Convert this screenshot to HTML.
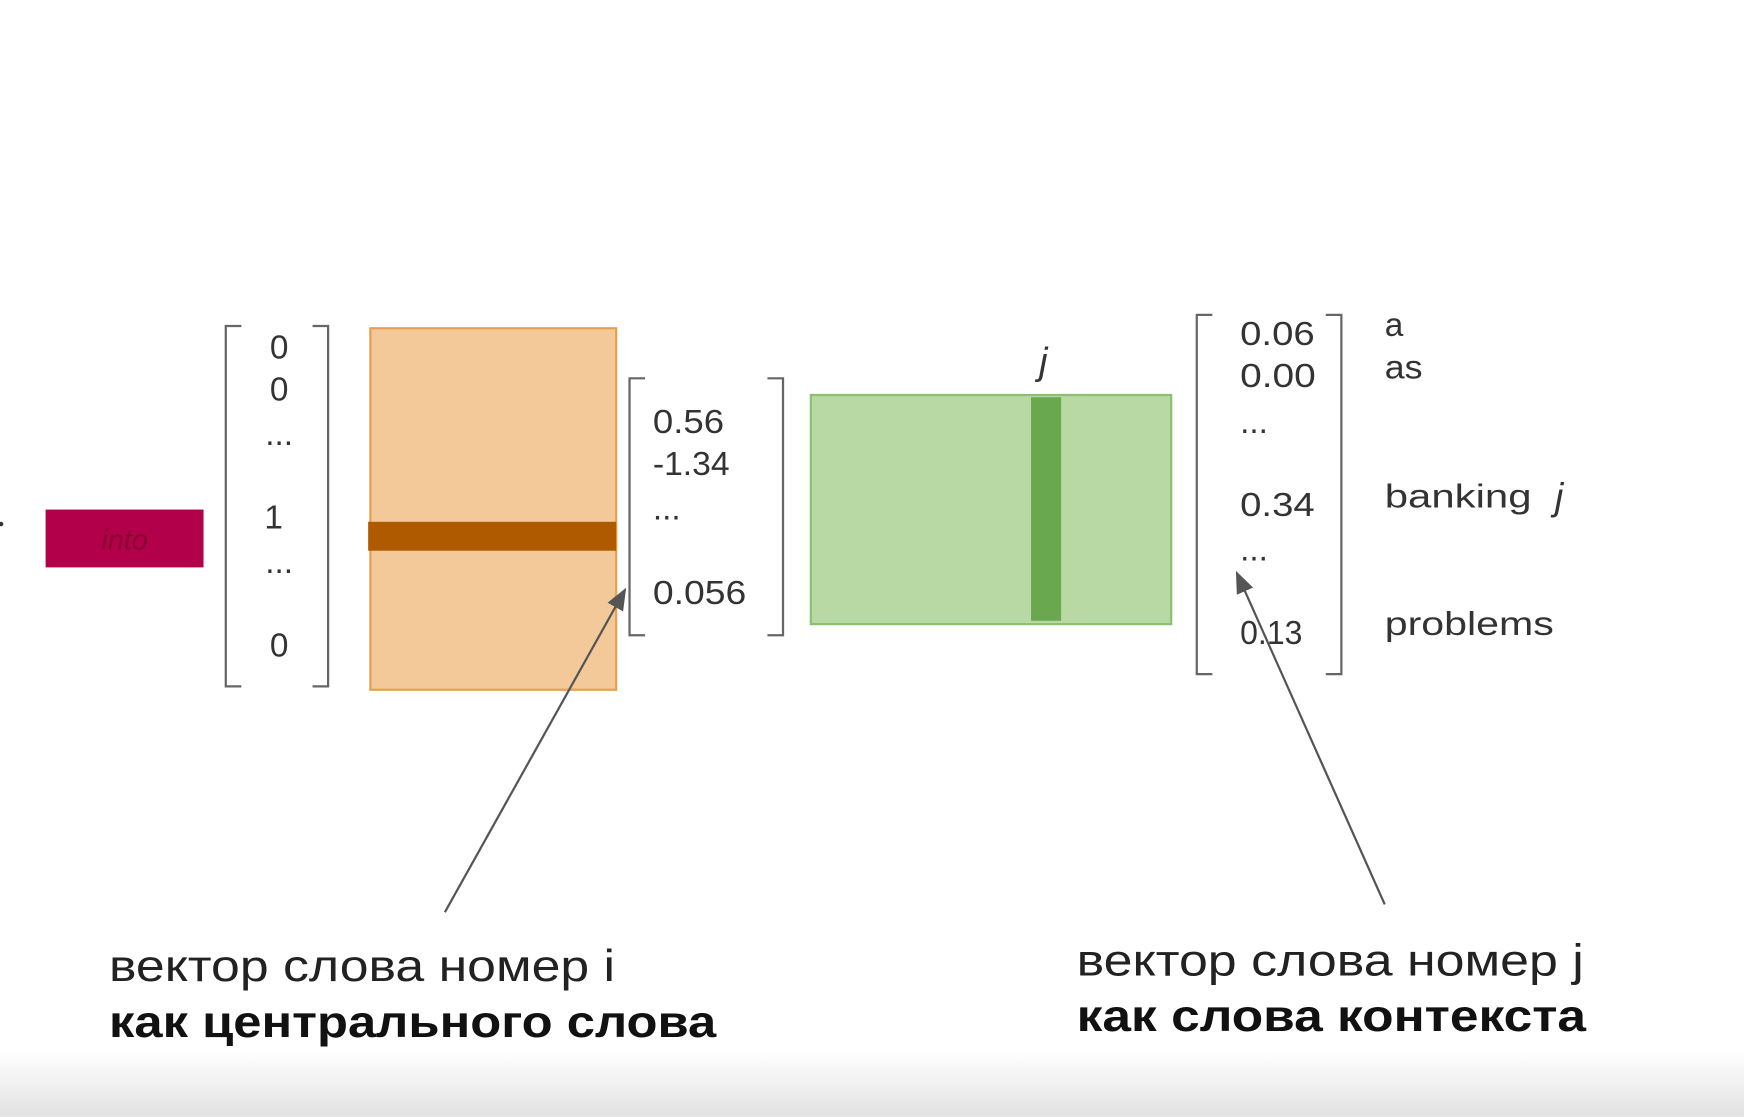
<!DOCTYPE html>
<html><head><meta charset="utf-8"><style>
html,body{margin:0;padding:0;background:#fff;width:1744px;height:1117px;overflow:hidden}
svg text{font-family:"Liberation Sans",sans-serif}
</style></head><body>
<svg width="1744" height="1117" viewBox="0 0 1568 1004" xmlns="http://www.w3.org/2000/svg">
<defs>
<linearGradient id="g" x1="0" y1="0" x2="0" y2="1"><stop offset="0" stop-color="#fff"/><stop offset="1" stop-color="#e2e2e2"/></linearGradient>
<marker id="ah" markerWidth="20" markerHeight="16" refX="18" refY="8" orient="auto" markerUnits="userSpaceOnUse" viewBox="0 0 20 16"><path d="M0,0 L20,8 L0,16 z" fill="#555"/></marker>
</defs>
<rect x="0" y="945" width="1568" height="59" fill="url(#g)"/>
<circle cx="1" cy="471" r="2" fill="#333"/>
<rect x="41" y="458" width="142" height="52" fill="#b3004a"/>
<text x="112" y="494" font-size="26" font-style="italic" fill="#8a0030" text-anchor="middle">into</text>
<g fill="none" stroke="#666" stroke-width="2">
<path d="M217,293 H203 V617 H217 M281,293 H295 V617 H281"/>
<path d="M580,340 H566 V571 H580 M690,340 H704 V571 H690"/>
<path d="M1090,283 H1076 V606 H1090 M1192,283 H1206 V606 H1192"/>
</g>
<g font-size="30" fill="#333" text-anchor="middle">
<text x="251" y="322">0</text><text x="251" y="360">0</text><text x="251" y="400">...</text>
<text x="246" y="475">1</text><text x="251" y="515">...</text><text x="251" y="590">0</text>
</g>
<rect x="333" y="295" width="221" height="325" fill="#f4c99a" stroke="#e8a050" stroke-width="2"/>
<rect x="331" y="469" width="223" height="26" fill="#b05a00"/>
<g font-size="30" fill="#333">
<text x="587" y="389" textLength="64" lengthAdjust="spacingAndGlyphs">0.56</text>
<text x="587" y="427" textLength="69" lengthAdjust="spacingAndGlyphs">-1.34</text>
<text x="587" y="467">...</text>
<text x="587" y="543" textLength="84" lengthAdjust="spacingAndGlyphs">0.056</text>
</g>
<rect x="729" y="355" width="324" height="206" fill="#b8d8a4" stroke="#8cc070" stroke-width="2"/>
<rect x="927" y="357" width="27" height="201" fill="#6aa84f"/>
<text x="938" y="336" font-size="34" font-style="italic" fill="#333" text-anchor="middle">j</text>
<g font-size="30" fill="#333">
<text x="1115" y="310" textLength="67" lengthAdjust="spacingAndGlyphs">0.06</text>
<text x="1115" y="348" textLength="68" lengthAdjust="spacingAndGlyphs">0.00</text>
<text x="1115" y="389">...</text>
<text x="1115" y="464" textLength="67" lengthAdjust="spacingAndGlyphs">0.34</text>
<text x="1115" y="504">...</text>
<text x="1115" y="579" textLength="56" lengthAdjust="spacingAndGlyphs">0.13</text>
<text x="1245" y="302">a</text>
<text x="1245" y="340" textLength="34" lengthAdjust="spacingAndGlyphs">as</text>
<text x="1245" y="456" textLength="132" lengthAdjust="spacingAndGlyphs">banking</text>
<text x="1245" y="571" textLength="152" lengthAdjust="spacingAndGlyphs">problems</text>
</g>
<text x="1398" y="458" font-size="34" font-style="italic" fill="#333">j</text>
<line x1="400" y1="820" x2="562" y2="530" stroke="#555" stroke-width="2" marker-end="url(#ah)"/>
<line x1="1245" y1="813" x2="1112" y2="515" stroke="#555" stroke-width="2" marker-end="url(#ah)"/>
<text x="98" y="882" font-size="40" fill="#222" textLength="455" lengthAdjust="spacingAndGlyphs">вектор слова номер i</text>
<text x="98" y="932" font-size="40" font-weight="bold" fill="#111" textLength="546" lengthAdjust="spacingAndGlyphs">как центрального слова</text>
<text x="968" y="877" font-size="40" fill="#222" textLength="456" lengthAdjust="spacingAndGlyphs">вектор слова номер j</text>
<text x="968" y="927" font-size="40" font-weight="bold" fill="#111" textLength="458" lengthAdjust="spacingAndGlyphs">как слова контекста</text>
</svg>
</body></html>
